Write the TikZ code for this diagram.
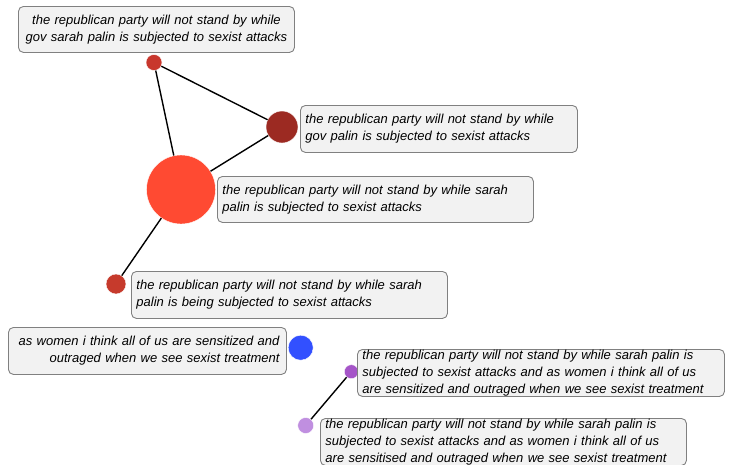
\documentclass[tikz,border=0pt]{standalone}
\usepackage{fontspec}
\setmainfont{Liberation Sans}
\usetikzlibrary{positioning}
\definecolor{dotA}{HTML}{C8372D}
\definecolor{dotB}{HTML}{9C2A22}
\definecolor{dotC}{HTML}{FF4A32}
\definecolor{dotD}{HTML}{C63A2C}
\definecolor{dotE}{HTML}{3250FF}
\definecolor{dotF}{HTML}{A555C8}
\definecolor{dotG}{HTML}{C08FE0}
\definecolor{tagfill}{HTML}{F2F2F2}
\definecolor{tagline}{HTML}{808080}
\begin{document}
\begin{tikzpicture}[x=1pt,y=-1pt,line width=1.4pt,
  dot/.style={circle,inner sep=0pt,draw=white,line width=0.4pt},
  tag/.style={draw=tagline,fill=tagfill,rounded corners=5pt,line width=0.9pt,
    anchor=north west,inner xsep=5pt,inner ysep=2pt,
    font=\fontsize{13}{17}\selectfont\itshape}]
\useasboundingbox (0,0) rectangle (732,464);

% clusters
\node[dot,fill=dotA,minimum size=16pt] (a) at (154,62.5) {};
\node[dot,fill=dotB,minimum size=32pt] (b) at (282,127) {};
\node[dot,fill=dotC,minimum size=69pt] (c) at (181,189.5) {};
\node[dot,fill=dotD,minimum size=20pt] (d) at (116,284) {};
\node[dot,fill=dotE,minimum size=25pt] (e) at (300.7,347.7) {};
\node[dot,fill=dotF,minimum size=14pt] (f) at (351.3,371.7) {};
\node[dot,fill=dotG,minimum size=16pt] (g) at (305.7,425.5) {};

% labels
\node[tag,text width=266pt,minimum height=46pt,align=center] (ta) at (18,6)
  {the republican party will not stand by while\\gov sarah palin is subjected to sexist attacks};
\node[tag,text width=267pt,minimum height=47pt,align=left] (tb) at (300,105)
  {the republican party will not stand by while\\gov palin is subjected to sexist attacks};
\node[tag,text width=306pt,minimum height=46pt,align=left] (tc) at (217,176)
  {the republican party will not stand by while sarah\\palin is subjected to sexist attacks};
\node[tag,text width=306pt,minimum height=47pt,align=left] (td) at (131,271)
  {the republican party will not stand by while sarah\\palin is being subjected to sexist attacks};
\node[tag,text width=264pt,inner xsep=7pt,minimum height=47pt,align=right] (te) at (8,327)
  {as women i think all of us are sensitized and\\outraged when we see sexist treatment};
\node[tag,text width=357pt,minimum height=47pt,inner ysep=0pt,align=left] (tf) at (357,349)
  {the republican party will not stand by while sarah palin is\\subjected to sexist attacks and as women i think all of us\\are sensitized and outraged when we see sexist treatment};
\node[tag,text width=356pt,minimum height=47pt,inner ysep=0pt,align=left] (tg) at (320,418)
  {the republican party will not stand by while sarah palin is\\subjected to sexist attacks and as women i think all of us\\are sensitised and outraged when we see sexist treatment};

\draw (a) -- (b);
\draw (a) -- (c);
\draw (c) -- (b);
\draw (c) -- (d);
\draw (f) -- (g);

\end{tikzpicture}
\end{document}
